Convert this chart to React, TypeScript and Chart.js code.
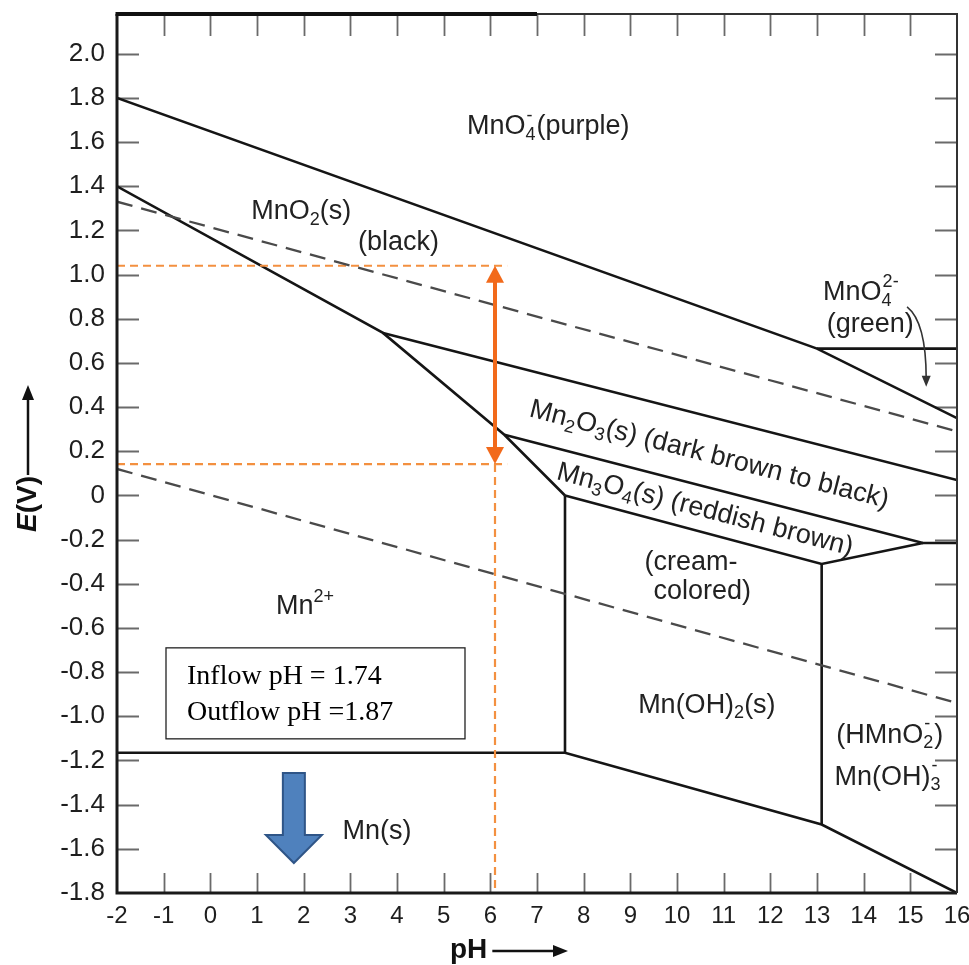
import React, { useEffect, useRef } from 'react';
import { Chart, registerables } from 'chart.js';

Chart.register(...registerables);

// ---------- axis values ----------
const phTicks = [-2, -1, 0, 1, 2, 3, 4, 5, 6, 7, 8, 9, 10, 11, 12, 13, 14, 15, 16];
const eTicks = [-1.8, -1.6, -1.4, -1.2, -1.0, -0.8, -0.6, -0.4, -0.2, 0, 0.2, 0.4, 0.6, 0.8, 1.0, 1.2, 1.4, 1.6, 1.8, 2.0];
const eTickLabels = ['-1.8', '-1.6', '-1.4', '-1.2', '-1.0', '-0.8', '-0.6', '-0.4', '-0.2', '0', '0.2', '0.4', '0.6', '0.8', '1.0', '1.2', '1.4', '1.6', '1.8', '2.0'];
const phRange = [-2, 16];
const eRange = [-1.8, 2.18];

// ---------- phase boundaries [pH, E(V)] ----------
const mno4_mno2 = [[-2, 1.8], [13.0, 0.665], [16, 0.35]];
const mno4_mno42 = [[13.0, 0.665], [16, 0.665]];
const mno2_mn2 = [[-2, 1.4], [3.7, 0.736], [6.3, 0.275], [7.6, 0.0]];
const mno2_mn2o3 = [[3.7, 0.736], [16, 0.07]];
const mn2o3_mn3o4 = [[6.3, 0.275], [15.27, -0.215], [16, -0.215]];
const mn3o4_mnoh2 = [[7.6, 0.0], [13.1, -0.31], [15.27, -0.215]];
const mn2_mnoh2 = [[7.6, 0.0], [7.6, -1.165]];
const mnoh2_hmno2 = [[13.1, -0.31], [13.1, -1.49]];
const mn_metal = [[-2, -1.165], [7.6, -1.165], [13.1, -1.49], [16, -1.8]];
const o2Water = [[-2, 1.33], [16, 0.29]];
const h2Water = [[-2, 0.12], [16, -0.94]];

// ---------- measured window (orange) ----------
const windowHighE = [[-2, 1.04], [6.36, 1.04]];
const windowLowE = [[-2, 0.142], [6.36, 0.142]];
const windowDrop = [[6.1, 0.142], [6.1, -1.8]];
const windowArrow = [[6.1, 1.04], [6.1, 0.142]];
const inflowPH = '1.74';
const outflowPH = '1.87';

// ---------- label texts ----------
type Part = { t: string; k?: 'sub' | 'sup' | 'stack'; s?: string };
const regionLabels: { parts: Part[]; at: [number, number]; along?: number[][] }[] = [
  { parts: [{ t: 'MnO' }, { t: '4', k: 'stack', s: '-' }, { t: '(purple)' }], at: [7.24, 1.669] },
  { parts: [{ t: 'MnO' }, { t: '2', k: 'sub' }, { t: '(s)' }], at: [1.95, 1.284] },
  { parts: [{ t: '(black)' }], at: [4.03, 1.144] },
  { parts: [{ t: 'MnO' }, { t: '4', k: 'stack', s: '2-' }], at: [13.94, 0.918] },
  { parts: [{ t: '(green)' }], at: [14.14, 0.773] },
  { parts: [{ t: 'Mn' }, { t: '2', k: 'sub' }, { t: 'O' }, { t: '3', k: 'sub' }, { t: '(s) (dark brown to black)' }], at: [10.69, 0.184], along: mno2_mn2o3 },
  { parts: [{ t: 'Mn' }, { t: '3', k: 'sub' }, { t: 'O' }, { t: '4', k: 'sub' }, { t: '(s) (reddish brown)' }], at: [10.6, -0.066], along: [mn2o3_mn3o4[0], mn2o3_mn3o4[1]] },
  { parts: [{ t: '(cream-' }], at: [10.3, -0.306] },
  { parts: [{ t: 'colored)' }], at: [10.54, -0.437] },
  { parts: [{ t: 'Mn' }, { t: '2+', k: 'sup' }], at: [2.03, -0.505] },
  { parts: [{ t: 'Mn(OH)' }, { t: '2', k: 'sub' }, { t: '(s)' }], at: [10.64, -0.949] },
  { parts: [{ t: '(HMnO' }, { t: '2', k: 'stack', s: '-' }, { t: ')' }], at: [14.56, -1.085] },
  { parts: [{ t: 'Mn(OH)' }, { t: '3', k: 'stack', s: '-' }], at: [14.52, -1.276] },
  { parts: [{ t: 'Mn(s)' }], at: [3.57, -1.524] },
];

const FONT = "'Liberation Sans', Arial, sans-serif";
const SERIF = "'Liberation Serif', 'Times New Roman', serif";

const toXY = (pts: number[][]) => pts.map(([x, y]) => ({ x, y }));

function lineSet(pts: number[][], color: string, width: number, dash: number[] = []) {
  return {
    data: toXY(pts),
    showLine: true,
    borderColor: color,
    borderWidth: width,
    borderDash: dash,
    pointRadius: 0,
    pointHoverRadius: 0,
    fill: false,
    tension: 0,
    borderJoinStyle: 'miter' as const,
    borderCapStyle: 'butt' as const,
  };
}

function drawRich(ctx: CanvasRenderingContext2D, parts: Part[], cx: number, cy: number, size: number) {
  const big = `${size}px ${FONT}`;
  const small = `${Math.round(size * 0.66)}px ${FONT}`;
  const widths = parts.map((p) => {
    if (!p.k) {
      ctx.font = big;
      return ctx.measureText(p.t).width;
    }
    ctx.font = small;
    if (p.k === 'stack') return Math.max(ctx.measureText(p.t).width, ctx.measureText(p.s || '').width) + 1;
    return ctx.measureText(p.t).width;
  });
  const total = widths.reduce((a, b) => a + b, 0);
  let x = cx - total / 2;
  ctx.textAlign = 'left';
  ctx.textBaseline = 'middle';
  parts.forEach((p, i) => {
    if (!p.k) {
      ctx.font = big;
      ctx.fillText(p.t, x, cy);
    } else {
      ctx.font = small;
      if (p.k === 'sub' || p.k === 'stack') ctx.fillText(p.t, x, cy + size * 0.3);
      if (p.k === 'sup') ctx.fillText(p.t, x, cy - size * 0.38);
      if (p.k === 'stack') ctx.fillText(p.s || '', x + 1, cy - size * 0.4);
    }
    x += widths[i];
  });
}

const overlayPlugin = {
  id: 'pourbaixOverlay',
  beforeDatasetsDraw(chart: any) {
    const { ctx, chartArea: a, scales } = chart;
    const xs = scales.x, ys = scales.y;
    ctx.save();
    // inward tick marks
    ctx.strokeStyle = '#6a6a6a';
    ctx.lineWidth = 1.8;
    ctx.beginPath();
    phTicks.forEach((v) => {
      if (v <= phRange[0] || v >= phRange[1]) return;
      const px = Math.round(xs.getPixelForValue(v)) + 0.5;
      ctx.moveTo(px, a.top);
      ctx.lineTo(px, a.top + 22);
      ctx.moveTo(px, a.bottom);
      ctx.lineTo(px, a.bottom - 20);
    });
    eTicks.forEach((v) => {
      if (v <= eRange[0]) return;
      const py = Math.round(ys.getPixelForValue(v)) + 0.5;
      ctx.moveTo(a.left, py);
      ctx.lineTo(a.left + 22, py);
      ctx.moveTo(a.right, py);
      ctx.lineTo(a.right - 22, py);
    });
    ctx.stroke();
    ctx.restore();
  },
  afterDatasetsDraw(chart: any) {
    const { ctx, chartArea: a, scales } = chart;
    const xs = scales.x, ys = scales.y;
    const X = (v: number) => xs.getPixelForValue(v);
    const Y = (v: number) => ys.getPixelForValue(v);
    ctx.save();

    // frame
    ctx.strokeStyle = '#1a1a1a';
    ctx.lineWidth = 3;
    ctx.beginPath();
    ctx.moveTo(a.left, a.top);
    ctx.lineTo(a.left, a.bottom);
    ctx.lineTo(a.right, a.bottom);
    ctx.stroke();
    ctx.lineWidth = 2;
    ctx.strokeStyle = '#333';
    ctx.beginPath();
    ctx.moveTo(a.right, a.bottom);
    ctx.lineTo(a.right, a.top);
    ctx.lineTo(X(7), a.top);
    ctx.stroke();
    ctx.lineWidth = 4;
    ctx.strokeStyle = '#111';
    ctx.beginPath();
    ctx.moveTo(a.left - 1.5, a.top);
    ctx.lineTo(X(7), a.top);
    ctx.stroke();

    // orange double arrow
    const ax = X(windowArrow[0][0]);
    const ay1 = Y(windowArrow[0][1]);
    const ay2 = Y(windowArrow[1][1]);
    const head = 17, hw = 9;
    ctx.strokeStyle = '#F26A1B';
    ctx.fillStyle = '#F26A1B';
    ctx.lineWidth = 4;
    ctx.beginPath();
    ctx.moveTo(ax, ay1 + head - 2);
    ctx.lineTo(ax, ay2 - head + 2);
    ctx.stroke();
    ctx.beginPath();
    ctx.moveTo(ax, ay1);
    ctx.lineTo(ax - hw, ay1 + head);
    ctx.lineTo(ax + hw, ay1 + head);
    ctx.closePath();
    ctx.fill();
    ctx.beginPath();
    ctx.moveTo(ax, ay2);
    ctx.lineTo(ax - hw, ay2 - head);
    ctx.lineTo(ax + hw, ay2 - head);
    ctx.closePath();
    ctx.fill();

    // region labels
    ctx.fillStyle = '#222';
    regionLabels.forEach((L) => {
      const cx = X(L.at[0]);
      const cy = Y(L.at[1]);
      if (L.along) {
        const p0 = L.along[0], p1 = L.along[L.along.length - 1];
        const ang = Math.atan2(Y(p1[1]) - Y(p0[1]), X(p1[0]) - X(p0[0]));
        ctx.save();
        ctx.translate(cx, cy);
        ctx.rotate(ang);
        drawRich(ctx, L.parts, 0, 0, 27);
        ctx.restore();
      } else {
        drawRich(ctx, L.parts, cx, cy, 27);
      }
    });

    // green curved arrow (MnO4 2- pointer)
    const c0 = [X(14.93), Y(0.854)], c1 = [X(15.34), Y(0.786)], c2 = [X(15.34), Y(0.492)];
    ctx.strokeStyle = '#333';
    ctx.fillStyle = '#333';
    ctx.lineWidth = 1.6;
    ctx.beginPath();
    ctx.moveTo(c0[0], c0[1]);
    ctx.quadraticCurveTo(c1[0], c1[1], c2[0], c2[1] - 8);
    ctx.stroke();
    ctx.beginPath();
    ctx.moveTo(c2[0], c2[1]);
    ctx.lineTo(c2[0] - 4.5, c2[1] - 11);
    ctx.lineTo(c2[0] + 4.5, c2[1] - 11);
    ctx.closePath();
    ctx.fill();

    // inflow / outflow box
    const bx1 = X(-0.95), bx2 = X(5.457), by1 = Y(-0.69), by2 = Y(-1.102);
    ctx.fillStyle = '#fff';
    ctx.fillRect(bx1, by1, bx2 - bx1, by2 - by1);
    ctx.strokeStyle = '#222';
    ctx.lineWidth = 1.3;
    ctx.strokeRect(bx1, by1, bx2 - bx1, by2 - by1);
    ctx.fillStyle = '#000';
    ctx.font = `28px ${SERIF}`;
    ctx.textAlign = 'left';
    ctx.textBaseline = 'middle';
    ctx.fillText(`Inflow pH = ${inflowPH}`, X(-0.5), Y(-0.822));
    ctx.fillText(`Outflow pH =${outflowPH}`, X(-0.5), Y(-0.985));

    // blue down arrow
    const bx = X(1.79), bTop = Y(-1.257), bBase = Y(-1.537), bTip = Y(-1.664);
    ctx.fillStyle = '#4F81BD';
    ctx.strokeStyle = '#2F5587';
    ctx.lineWidth = 2;
    ctx.beginPath();
    ctx.moveTo(bx - 11, bTop);
    ctx.lineTo(bx + 11, bTop);
    ctx.lineTo(bx + 11, bBase);
    ctx.lineTo(bx + 28, bBase);
    ctx.lineTo(bx, bTip);
    ctx.lineTo(bx - 28, bBase);
    ctx.lineTo(bx - 11, bBase);
    ctx.closePath();
    ctx.fill();
    ctx.stroke();

    // axis titles
    ctx.fillStyle = '#111';
    ctx.strokeStyle = '#111';
    // y title
    ctx.save();
    ctx.translate(28, 532);
    ctx.rotate(-Math.PI / 2);
    ctx.textAlign = 'left';
    ctx.textBaseline = 'middle';
    ctx.font = `italic bold 28px ${FONT}`;
    ctx.fillText('E', 0, 0);
    const ew = ctx.measureText('E').width;
    ctx.font = `bold 28px ${FONT}`;
    ctx.fillText('(V)', ew, 0);
    const tw = ew + ctx.measureText('(V)').width;
    const tipY = 532 - 385;
    ctx.lineWidth = 2.5;
    ctx.beginPath();
    ctx.moveTo(tw + 1, 0);
    ctx.lineTo(tipY - 12, 0);
    ctx.stroke();
    ctx.beginPath();
    ctx.moveTo(tipY, 0);
    ctx.lineTo(tipY - 15, -6);
    ctx.lineTo(tipY - 15, 6);
    ctx.closePath();
    ctx.fill();
    ctx.restore();
    // x title
    ctx.font = `bold 28px ${FONT}`;
    ctx.textAlign = 'left';
    ctx.textBaseline = 'middle';
    ctx.fillText('pH', 450, 950);
    const pw = ctx.measureText('pH').width;
    ctx.lineWidth = 2.5;
    ctx.beginPath();
    ctx.moveTo(450 + pw + 5, 951);
    ctx.lineTo(556, 951);
    ctx.stroke();
    ctx.beginPath();
    ctx.moveTo(568, 951);
    ctx.lineTo(553, 945);
    ctx.lineTo(553, 957);
    ctx.closePath();
    ctx.fill();

    ctx.restore();
  },
};

export default function App() {
  const ref = useRef<HTMLCanvasElement | null>(null);
  useEffect(() => {
    if (!ref.current) return;
    const black = '#151515';
    const dashGrey = '#4a4a4a';
    const orange = '#F39040';
    const chart = new Chart(ref.current, {
      type: 'scatter',
      data: {
        datasets: [
          lineSet(o2Water, dashGrey, 2.3, [16, 9]),
          lineSet(h2Water, dashGrey, 2.3, [16, 9]),
          lineSet(windowHighE, orange, 2.2, [8, 5]),
          lineSet(windowLowE, orange, 2.2, [8, 5]),
          lineSet(windowDrop, orange, 2.2, [8, 5]),
          lineSet(mno4_mno2, black, 2.6),
          lineSet(mno4_mno42, black, 2.6),
          lineSet(mno2_mn2, black, 2.6),
          lineSet(mno2_mn2o3, black, 2.6),
          lineSet(mn2o3_mn3o4, black, 2.6),
          lineSet(mn3o4_mnoh2, black, 2.6),
          lineSet(mn2_mnoh2, black, 2.6),
          lineSet(mnoh2_hmno2, black, 2.6),
          lineSet(mn_metal, black, 2.6),
        ] as any,
      },
      options: {
        animation: false,
        responsive: false,
        maintainAspectRatio: false,
        events: [],
        layout: { padding: { top: 14, right: 12, left: 0, bottom: 0 }, autoPadding: false } as any,
        plugins: { legend: { display: false }, tooltip: { enabled: false }, title: { display: false } },
        scales: {
          x: {
            type: 'linear',
            min: phRange[0],
            max: phRange[1],
            afterBuildTicks: (s: any) => {
              s.ticks = phTicks.map((v) => ({ value: v }));
            },
            afterFit: (s: any) => {
              s.height = 72;
              s.paddingLeft = 0;
              s.paddingRight = 0;
              s.paddingTop = 0;
              s.paddingBottom = 0;
            },
            grid: { display: false, drawTicks: false },
            border: { display: false },
            ticks: {
              autoSkip: false,
              maxRotation: 0,
              padding: 9,
              color: '#1e1e1e',
              font: { family: FONT, size: 24 },
              callback: (v: any) => String(v),
            },
          },
          y: {
            type: 'linear',
            min: eRange[0],
            max: eRange[1],
            afterBuildTicks: (s: any) => {
              s.ticks = eTicks.map((v) => ({ value: v }));
            },
            afterFit: (s: any) => {
              s.width = 117;
              s.paddingLeft = 0;
              s.paddingRight = 0;
              s.paddingTop = 0;
              s.paddingBottom = 0;
            },
            grid: { display: false, drawTicks: false },
            border: { display: false },
            ticks: {
              autoSkip: false,
              padding: 12,
              color: '#1e1e1e',
              font: { family: FONT, size: 26 },
              callback: (_v: any, i: number) => eTickLabels[i],
            },
          },
        },
      },
      plugins: [overlayPlugin],
    } as any);
    return () => chart.destroy();
  }, []);
  return (
    <div style={{ position: 'absolute', left: 0, top: 0, width: 969, height: 965, background: '#fff' }}>
      <canvas ref={ref} width={969} height={965} style={{ display: 'block', width: 969, height: 965 }} />
    </div>
  );
}
